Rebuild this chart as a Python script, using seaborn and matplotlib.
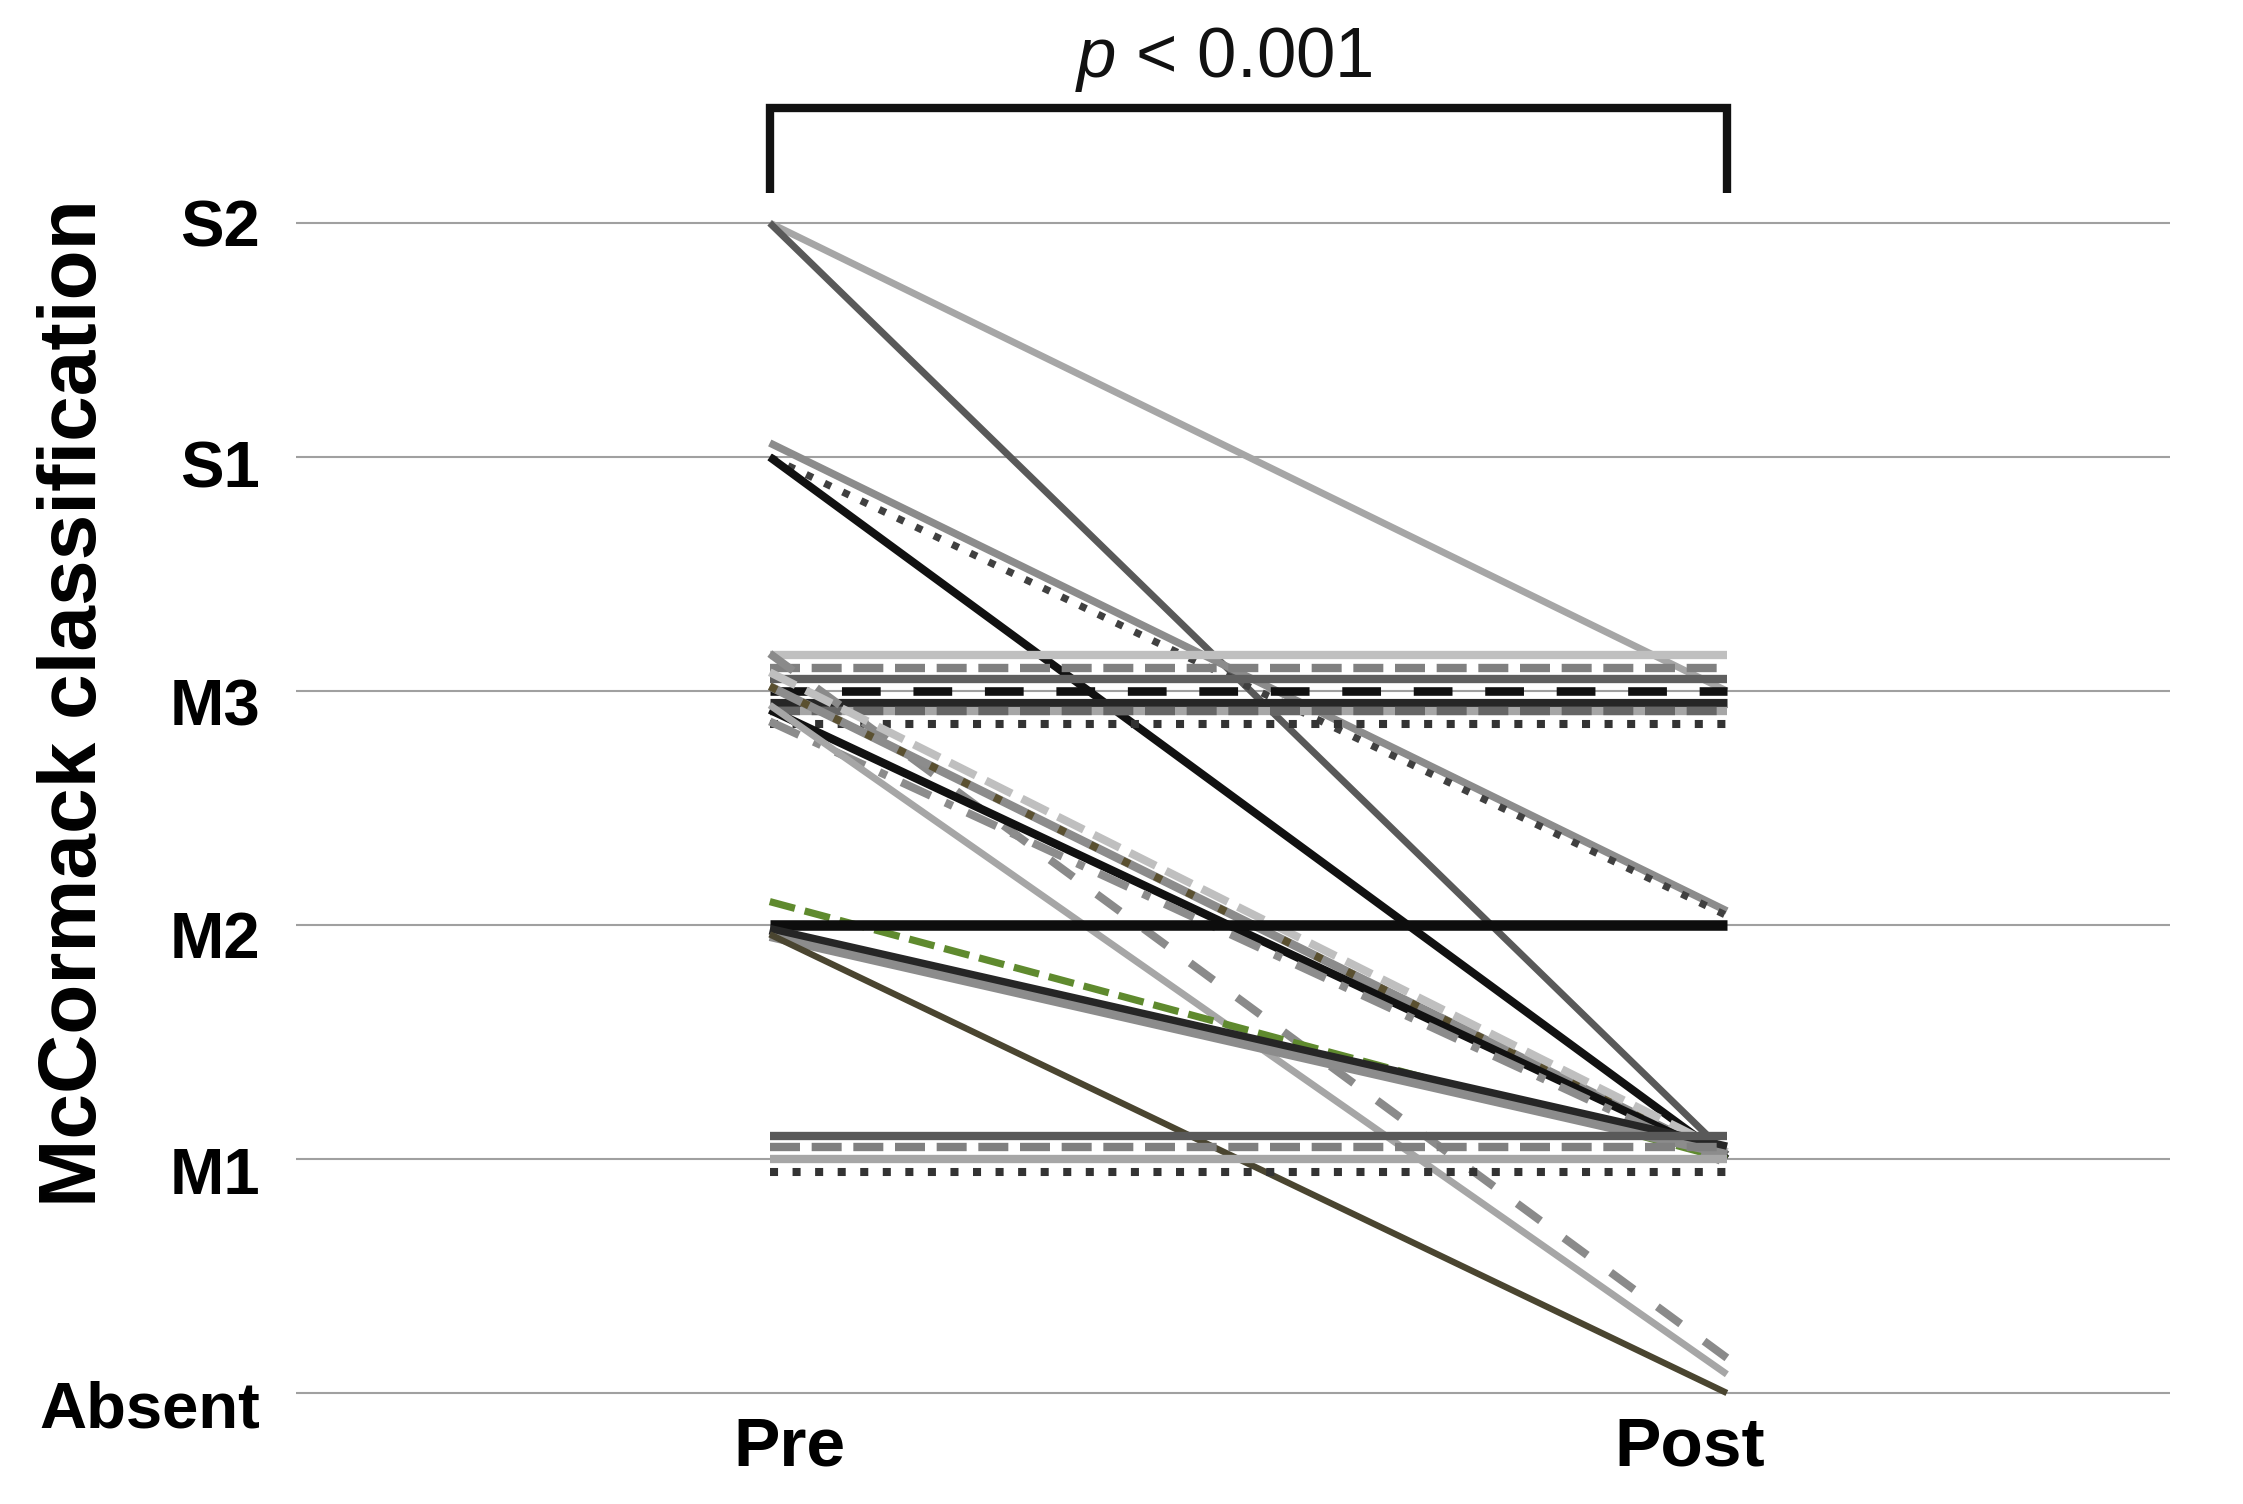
import numpy as np
import pandas as pd
import matplotlib
matplotlib.use("Agg")
import matplotlib.pyplot as plt
from matplotlib.transforms import ScaledTranslation
import seaborn as sns

# ---------------- data ----------------
time_labels = ["Pre", "Post"]
grade_labels = ["Absent", "M1", "M2", "M3", "S1", "S2"]   # 0..5

# per-patient McCormack grade (with the small visual offsets used in the figure)
pre_values = [5.00, 5.00, 4.06, 4.00, 4.00,
              3.155, 3.10, 3.05, 3.00, 2.95, 2.915, 2.915, 2.86,
              3.16, 3.02, 3.02, 3.08, 2.92, 2.87, 2.94,
              2.10, 2.00, 1.98, 1.95, 1.96,
              1.10, 1.05, 1.00, 0.945]
post_values = [3.00, 1.02, 2.06, 2.04, 1.00,
               3.155, 3.10, 3.05, 3.00, 2.95, 2.915, 2.915, 2.86,
               0.15, 1.00, 1.00, 1.03, 1.00, 0.98, 0.08,
               1.00, 2.00, 1.05, 1.02, 0.00,
               1.10, 1.05, 1.00, 0.945]

p_text = "< 0.001"

# ---------------- styles ----------------
DOT = (0, (1, 1.8))
DASH = (0, (3.6, 1.4))
LDASH = (0, (4.5, 3.8))
SDASH = (0, (3.6, 3.6))
DDOT = (0, (4.0, 2.0, 1, 2.0))
SPARSE = (0, (1, 3.6))
line_colors = ["#a6a6a6", "#595959", "#8c8c8c", "#404040", "#111111",
               "#bfbfbf", "#808080", "#5f5f5f", "#111111", "#262626", "#a6a6a6", "#666666", "#333333",
               "#8a8a8a", "#8c8c8c", "#5a5030", "#bfbfbf", "#111111", "#8c8c8c", "#a6a6a6",
               "#5f8a2e", "#0d0d0d", "#262626", "#8c8c8c", "#4a4530",
               "#595959", "#808080", "#a6a6a6", "#333333"]
line_styles = ["-", "-", "-", DOT, "-",
               "-", DASH, "-", LDASH, "-", "-", DASH, DOT,
               SDASH, "-", SPARSE, DASH, "-", DDOT, "-",
               DASH, "-", "-", "-", "-",
               "-", DASH, "-", DOT]
line_widths = [5.0, 5.0, 5.4, 5.2, 5.8,
               6.0, 6.0, 6.0, 6.2, 6.6, 6.0, 6.0, 5.8,
               5.8, 6.2, 5.6, 5.8, 6.0, 5.8, 5.0,
               5.2, 7.6, 7.0, 6.2, 4.6,
               6.0, 6.0, 6.0, 5.8]

# long-form table
rows = []
for i, (a, b) in enumerate(zip(pre_values, post_values)):
    rows.append({"pid": i, "time": 0, "grade": a})
    rows.append({"pid": i, "time": 1, "grade": b})
df = pd.DataFrame(rows)

# ---------------- figure ----------------
sns.set_theme(style="white")
plt.rcParams["font.family"] = ["Liberation Sans", "DejaVu Sans"]
plt.rcParams["mathtext.fontset"] = "custom"
plt.rcParams["mathtext.it"] = "Liberation Sans:italic"
plt.rcParams["mathtext.rm"] = "Liberation Sans"
plt.rcParams["text.color"] = "black"
plt.rcParams["axes.labelcolor"] = "black"
plt.rcParams["xtick.color"] = "black"
plt.rcParams["ytick.color"] = "black"

W, H = 2243, 1504
fig = plt.figure(figsize=(W / 100, H / 100), dpi=100)
ax = fig.add_axes([296 / W, 1 - 1416.4 / H, 1874 / W, 1216.8 / H])

for i in range(len(pre_values)):
    sns.lineplot(data=df[df["pid"] == i], x="time", y="grade", ax=ax,
                 color=line_colors[i], linestyle=line_styles[i],
                 linewidth=line_widths[i], legend=False, sort=False,
                 estimator=None, solid_capstyle="butt", dash_capstyle="butt")

ax.set_xlim(-0.495, 1.463)
ax.set_ylim(-0.1, 5.1)
ax.set_yticks(range(len(grade_labels)))
ax.set_yticklabels(grade_labels, fontsize=47, fontweight="bold", color="black")
ax.set_xticks([0, 1])
ax.set_xticklabels(time_labels, fontsize=50, fontweight="bold", color="black")
ax.set_xlabel("")
ax.set_ylabel("McCormack classification", fontsize=59, fontweight="bold", color="black")
ax.yaxis.set_label_coords(-0.118, 0.5863)
ax.yaxis.label.set_va("center")

ax.grid(axis="y", color="#a0a0a0", lw=1.5, zorder=0)
ax.grid(axis="x", visible=False)
ax.set_axisbelow(True)
for s in ax.spines.values():
    s.set_visible(False)
ax.tick_params(axis="y", length=0, pad=26)
ax.tick_params(axis="x", length=0, pad=0)

# nudge tick labels to match reference
y_shift_px = [11, 11, 10, 11, 7, 0]
for lbl, dy in zip(ax.get_yticklabels(), y_shift_px):
    lbl.set_transform(lbl.get_transform() +
                      ScaledTranslation(0, -dy / 100, fig.dpi_scale_trans))
x_shift = [20, -37]
for lbl, dx in zip(ax.get_xticklabels(), x_shift):
    lbl.set_transform(lbl.get_transform() +
                      ScaledTranslation(dx / 100, 1 / 100, fig.dpi_scale_trans))

# significance bracket
br_low, br_high = 5.13, 5.49
ax.plot([0, 0, 1, 1], [br_low, br_high, br_high, br_low], color="#111111",
        lw=6.0, clip_on=False, solid_joinstyle="miter", solid_capstyle="butt")
ax.text(0.474, 5.624, r"$p$ " + p_text, ha="center", va="baseline",
        fontsize=51, color="#111111")

fig.savefig("out.png", dpi=100)
